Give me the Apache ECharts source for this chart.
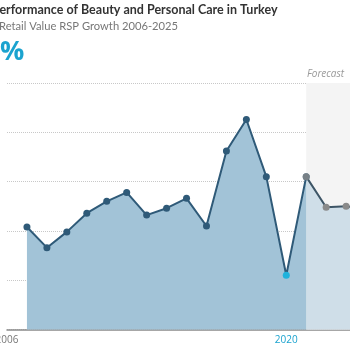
<!DOCTYPE html>
<html>
<head>
<meta charset="utf-8">
<script src="https://cdn.jsdelivr.net/npm/echarts@6/dist/echarts.min.js"></script>
<style>html,body{margin:0;padding:0;background:#fff;}#c{width:350px;height:350px;}</style>
</head>
<body>
<div id="c"></div>
<script>
var years = ['2006','2007','2008','2009','2010','2011','2012','2013','2014','2015','2016','2017','2018','2019','2020','2021','2022','2023','2024','2025'];
var historical = [null,10.4,8.3,9.9,11.8,13.0,13.9,11.6,12.3,13.3,10.5,18.1,21.3,15.5,5.5,15.5,null,null,null,null];
var forecast = [null,null,null,null,null,null,null,null,null,null,null,null,null,null,null,15.5,12.4,12.5,12.3,12.0];
var shownLabels = ['2006','2020','2025'];
var highlightYear = '2020';
var forecastStart = '2021';
var forecastEnd = '2025';

var chart = echarts.init(document.getElementById('c'));
var xData = years.map(function(y){
  return y === highlightYear ? {value:y, textStyle:{color:'#1ba3cf'}} : y;
});
var histData = historical.map(function(v,i){
  if (years[i] === highlightYear && v !== null) {
    return {value:v, itemStyle:{color:'#1fb2dc'}};
  }
  return v;
});
var fcData = forecast.map(function(v,i){
  if (years[i] === forecastStart) return {value:v, symbol:'none'};
  return v;
});
chart.setOption({
  animation:false,
  textStyle:{fontFamily:'Open Sans'},
  title:[
    {text:'Performance of Beauty and Personal Care in Turkey', left:-13, top:-2,
     textStyle:{fontSize:12.5, fontWeight:'bold', color:'#333', fontFamily:'Lato'}},
    {text:'Retail Value RSP Growth 2006-2025', left:-6, top:16,
     textStyle:{fontSize:11.2, fontWeight:'normal', color:'#777', fontFamily:'Lato'}},
    {text:'%', left:-5, top:34,
     textStyle:{fontSize:27, fontWeight:'bold', color:'#1ba3cf', fontFamily:'Open Sans'}}
  ],
  graphic:[
    {type:'text', left:307, top:69, style:{text:'Forecast', font:'italic 10px "Open Sans"', fill:'#999'}}
  ],
  grid:{left:7, width:379, top:83, height:246.5, containLabel:false, outerBoundsMode:'none'},
  xAxis:{
    type:'category', data:xData, boundaryGap:false,
    axisLine:{show:true, lineStyle:{color:'#8a8a8a', width:1.5}},
    axisTick:{show:false},
    axisLabel:{fontSize:10, color:'#777', margin:6,
      interval:function(i,v){ return shownLabels.indexOf(v) >= 0; }},
    splitLine:{show:false}
  },
  yAxis:{
    type:'value', min:0, max:25, interval:5,
    axisLine:{show:false}, axisTick:{show:false}, axisLabel:{show:false},
    splitLine:{show:true, lineStyle:{color:'#c8c8c8', type:'dotted', width:1}}
  },
  series:[
    {
      type:'line', data:histData, z:3,
      symbol:'circle', symbolSize:7, showSymbol:true,
      lineStyle:{color:'#2f5a78', width:2},
      itemStyle:{color:'#2f5a78'},
      areaStyle:{color:'#a2c3d7', opacity:1},
      markArea:{silent:true, itemStyle:{color:'#f4f4f4'},
        data:[[{xAxis:forecastStart},{xAxis:forecastEnd}]]}
    },
    {
      type:'line', data:fcData, z:2,
      symbol:'circle', symbolSize:7, showSymbol:true,
      lineStyle:{color:'#3d5566', width:2},
      itemStyle:{color:'#8a8a8a'},
      areaStyle:{color:'#cfdee8', opacity:1}
    },
    {
      type:'scatter', z:4, symbolSize:7,
      data:forecast.map(function(v,i){ return years[i]===forecastStart ? v : null; }),
      itemStyle:{color:'#8a8a8a'}
    }
  ]
});
</script>
</body>
</html>
